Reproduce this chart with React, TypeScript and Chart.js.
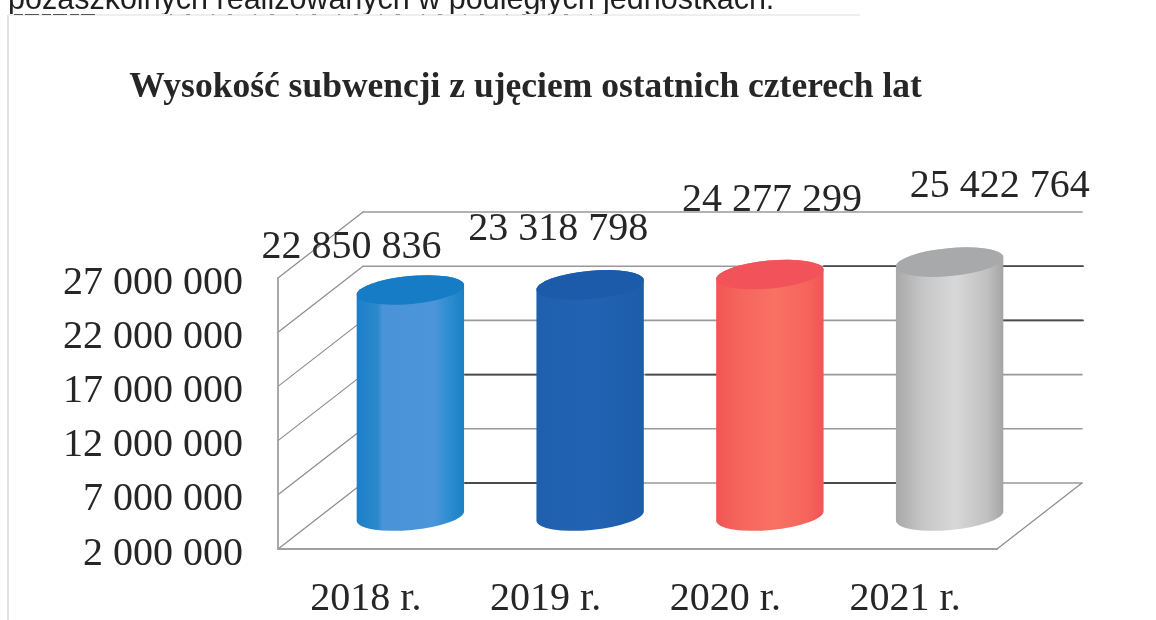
import React, { useEffect, useRef } from "react";
import { Chart, registerables, BarController, BarElement } from "chart.js";

const categories = ["2018 r.", "2019 r.", "2020 r.", "2021 r."];
const subsidy = [22850836, 23318798, 24277299, 25422764];
const axisMin = 2000000;
const axisMax = 27000000;
const axisStep = 5000000;
const chartTitle = "Wysokość subwencji z ujęciem ostatnich czterech lat";
const pageText = "pozaszkolnych realizowanych w podległych jednostkach.";

const SERIF = '"Liberation Serif", "Times New Roman", serif';
const INK = "#262626";
const DEPTH_X = 85;
const DEPTH_Y = -66;
const CAP_RY = 14;
const CAP_TILT = (-5.3 * Math.PI) / 180;

const capColors = ["#157cc5", "#1b5ba9", "#f2535a", "#a7a9ab"];
const bodyStops: [number, string][][] = [
  [[0, "#1c7fc6"], [0.2, "#2b8acd"], [0.24, "#4b93d8"], [0.72, "#4c95da"], [0.86, "#2d8dd0"], [1, "#1a80c4"]],
  [[0, "#1f60ae"], [0.5, "#2163b2"], [1, "#1d5dab"]],
  [[0, "#f25553"], [0.2, "#f5645c"], [0.55, "#f87264"], [0.85, "#f5645c"], [1, "#f05555"]],
  [[0, "#a8a8a8"], [0.25, "#c6c6c6"], [0.55, "#d8d8d8"], [0.85, "#c0c0c0"], [1, "#a4a4a4"]],
];
const labelOffsets: [number, number][] = [[-59, -42], [-32, -55], [2, -74], [50, -76]];
const darkGrid: [number, number, number][] = [
  [22000000, 824, 896], [22000000, 1003, 1083], [17000000, 1003, 1083],
  [12000000, 465, 537], [12000000, 646, 717],
  [2000000, 465, 537], [2000000, 824, 896],
];

const fmt = (v: number) => String(v).replace(/\B(?=(\d{3})+(?!\d))/g, " ");

class CylinderElement extends BarElement {
  static id = "cylinder";
  draw(ctx: CanvasRenderingContext2D) {
    const { x, y, base, width } = (this as any).getProps(["x", "y", "base", "width"]);
    const i = (this as any).$context?.dataIndex ?? 0;
    const cx = x + DEPTH_X / 2;
    const top = y + DEPTH_Y / 2;
    const bottom = base + DEPTH_Y / 2;
    const rx = width / 2;
    const g = ctx.createLinearGradient(cx - rx, 0, cx + rx, 0);
    bodyStops[i].forEach(([p, c]) => g.addColorStop(p, c));
    ctx.save();
    ctx.beginPath();
    ctx.ellipse(cx, bottom, rx, CAP_RY, CAP_TILT, 0, Math.PI);
    ctx.ellipse(cx, top, rx, CAP_RY, CAP_TILT, Math.PI, Math.PI * 2);
    ctx.closePath();
    ctx.fillStyle = g;
    ctx.fill();
    ctx.beginPath();
    ctx.ellipse(cx, top, rx, CAP_RY, CAP_TILT, 0, Math.PI * 2);
    ctx.fillStyle = capColors[i];
    ctx.fill();
    ctx.restore();
  }
}

class CylinderController extends BarController {
  static id = "cylinder";
  static defaults = { ...(BarController as any).defaults, dataElementType: "cylinder" };
}

Chart.register(...registerables, CylinderElement as any, CylinderController as any);

const line = (ctx: CanvasRenderingContext2D, x0: number, y0: number, x1: number, y1: number) => {
  ctx.beginPath();
  ctx.moveTo(x0, y0);
  ctx.lineTo(x1, y1);
  ctx.stroke();
};

const pagePlugin = {
  id: "page",
  beforeDraw(chart: any) {
    const { ctx } = chart;
    ctx.save();
    ctx.fillStyle = "#ffffff";
    ctx.fillRect(0, 0, chart.width, chart.height);
    ctx.fillStyle = "#1f1f1f";
    ctx.font = '30.5px "Liberation Sans", Arial, sans-serif';
    ctx.textBaseline = "alphabetic";
    ctx.textAlign = "left";
    ctx.fillText(pageText, 8, 9);
    ctx.strokeStyle = "#e2e2e2";
    ctx.lineWidth = 2;
    line(ctx, 8, 15, 8, 620);
    ctx.strokeStyle = "#eeeeee";
    line(ctx, 8, 15, 860, 15);
    ctx.strokeStyle = "#555555";
    ctx.lineWidth = 1;
    ctx.setLineDash([9, 2, 14, 3]);
    line(ctx, 14, 14.5, 95, 14.5);
    ctx.strokeStyle = "#999999";
    ctx.setLineDash([2, 14, 4, 22]);
    line(ctx, 170, 14.5, 600, 14.5);
    ctx.restore();
  },
};

const wallsPlugin = {
  id: "walls",
  beforeDatasetsDraw(chart: any) {
    const { ctx, chartArea, scales } = chart;
    const { left, right, bottom } = chartArea;
    const yS = scales.y;
    ctx.save();
    ctx.lineCap = "round";
    yS.ticks.forEach((t: any) => {
      const py = yS.getPixelForValue(t.value);
      ctx.strokeStyle = "#8c8c8c";
      ctx.lineWidth = 1.2;
      line(ctx, left, py, left + DEPTH_X, py + DEPTH_Y);
      ctx.strokeStyle = "#999999";
      ctx.lineWidth = 1.6;
      line(ctx, left + DEPTH_X, py + DEPTH_Y, right + DEPTH_X, py + DEPTH_Y);
    });
    ctx.strokeStyle = "#4a4a4a";
    ctx.lineWidth = 1.8;
    darkGrid.forEach(([v, x0, x1]) => {
      const py = yS.getPixelForValue(v) + DEPTH_Y;
      line(ctx, x0, py, x1, py);
    });
    ctx.strokeStyle = "#a0a0a0";
    ctx.lineWidth = 1.8;
    line(ctx, left, yS.top, left, bottom);
    line(ctx, left, bottom, right, bottom);
    ctx.lineWidth = 1.2;
    ctx.strokeStyle = "#8c8c8c";
    line(ctx, right, bottom, right + DEPTH_X, bottom + DEPTH_Y);
    ctx.restore();
  },
};

const valueLabelsPlugin = {
  id: "valueLabels",
  afterDatasetsDraw(chart: any) {
    const { ctx } = chart;
    const meta = chart.getDatasetMeta(0);
    ctx.save();
    ctx.font = `40px ${SERIF}`;
    ctx.fillStyle = INK;
    ctx.textAlign = "center";
    ctx.textBaseline = "middle";
    meta.data.forEach((el: any, i: number) => {
      const [ox, oy] = labelOffsets[i];
      ctx.fillText(fmt(subsidy[i]), el.x + DEPTH_X / 2 + ox, el.y + DEPTH_Y / 2 + oy);
    });
    ctx.restore();
  },
};

export default function App() {
  const ref = useRef<HTMLCanvasElement>(null);
  useEffect(() => {
    document.body.style.margin = "0";
    const chart = new Chart(ref.current as HTMLCanvasElement, {
      type: "cylinder" as any,
      data: {
        labels: categories,
        datasets: [
          {
            data: subsidy,
            base: axisMin,
            barPercentage: 0.6,
            categoryPercentage: 1,
            clip: false,
            backgroundColor: capColors,
          } as any,
        ],
      },
      options: {
        responsive: false,
        animation: false,
        layout: { padding: { left: 54, right: 159, top: 0, bottom: 0 } },
        plugins: {
          legend: { display: false },
          tooltip: { enabled: false },
          title: {
            display: true,
            text: chartTitle,
            color: INK,
            font: { family: SERIF, size: 35.5, weight: "bold", lineHeight: 1.2 },
            padding: { top: 67, bottom: 168.4 },
          },
        },
        scales: {
          x: {
            grid: { display: false },
            border: { display: false },
            ticks: {
              color: INK,
              font: { family: SERIF, size: 40 },
              padding: 18,
              labelOffset: -2,
              maxRotation: 0,
              autoSkip: false,
            },
            afterFit: (s: any) => {
              s.height = 71;
            },
          },
          y: {
            min: axisMin,
            max: axisMax,
            grid: { display: false },
            border: { display: false },
            ticks: {
              stepSize: axisStep,
              color: INK,
              padding: 27,
              labelOffset: 5,
              font: { family: SERIF, size: 40 },
              callback: (v: any) => fmt(Number(v)),
            },
            afterFit: (s: any) => {
              s.width = 224;
            },
          },
        },
      } as any,
      plugins: [pagePlugin, wallsPlugin, valueLabelsPlugin],
    });
    return () => chart.destroy();
  }, []);
  return <canvas ref={ref} width={1156} height={620} style={{ display: "block" }} />;
}
